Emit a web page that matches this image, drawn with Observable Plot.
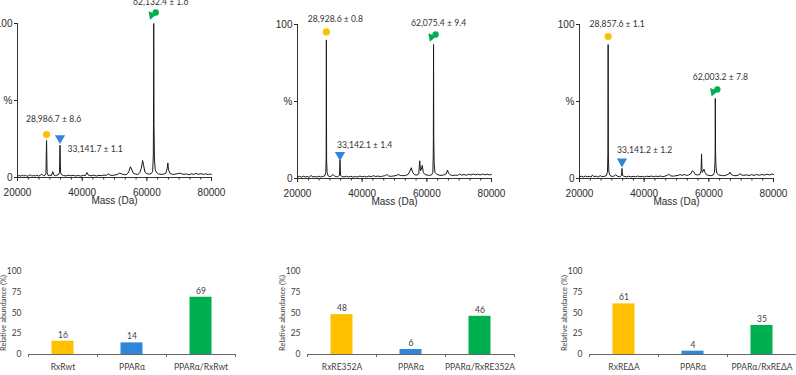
<!DOCTYPE html>
<html>
<head>
<meta charset="utf-8">
<script src="https://cdn.jsdelivr.net/npm/d3@7"></script>
<script src="https://cdn.jsdelivr.net/npm/@observablehq/plot@0.6"></script>
<style>
  body { margin: 0; background: #fff; }
  #fig { position: relative; width: 796px; height: 375px; overflow: hidden; background: #fff; }
  #fig > svg { position: absolute; overflow: visible; }
</style>
</head>
<body>
<div id="fig"></div>
<script>
// ---------- deconvoluted mass spectra: [mass (Da), relative intensity (%)] ----------
const spectrumRxRwt = [
  [20000,0.8],[20500,1.3],[21000,0.9],[21500,1.5],[22000,1.0],[22500,1.4],[23000,0.8],[23500,1.2],
  [24000,1.8],[24400,0.9],[25000,1.3],[25500,1.0],[26000,1.6],[26500,0.9],[27000,1.4],[27500,2.2],
  [28000,1.1],[28500,1.5],[28800,2.5],[28987,24],[29150,3],[29500,1.2],[30000,1.5],[30500,1.2],
  [30900,3.8],[31300,1.5],[31800,1.2],[32300,1.6],[32800,2.0],[33000,4],[33142,21],[33300,3.5],
  [33600,1.8],[34200,1.3],[35000,1.0],[35800,1.5],[36500,1.1],[37200,1.4],[38000,1.0],[38800,1.3],
  [39600,0.9],[40400,1.4],[41000,1.2],[41500,3.2],[42000,1.4],[42800,1.1],[43600,1.5],[44400,1.0],
  [45200,1.4],[46000,1.2],[46800,1.6],[47500,1.3],[48000,2.5],[48500,1.7],[49200,1.3],[50000,1.6],
  [50800,1.9],[51500,2.8],[52200,2.4],[53000,1.8],[53800,2.0],[54400,3.5],[54900,7],[55300,5.5],
  [55800,2.8],[56500,2.2],[57200,2.0],[57800,3],[58300,6],[58700,11],[59000,8],[59400,3.5],
  [60000,2.5],[60800,2.2],[61400,2.6],[61800,4],[62000,14],[62060,35],[62132,100],[62220,34],
  [62350,12],[62600,5],[63000,3.2],[63600,2.4],[64400,2.0],[65200,2.2],[65900,2.8],[66300,6],
  [66500,9.5],[66700,5],[67200,2.6],[68000,2.0],[69000,2.2],[70000,2.8],[70800,2.4],[71500,2.0],
  [72300,2.3],[73000,1.8],[73800,2.4],[74500,2.0],[75200,2.6],[76000,2.1],[76800,2.5],[77500,2.0],
  [78200,2.4],[79000,1.9],[79600,2.3],[80000,2.0]
];
const spectrumRxRE352A = [
  [20000,1.0],[20600,1.4],[21200,0.9],[21800,1.5],[22400,1.0],[23000,1.3],[23600,0.8],[24200,1.9],
  [24800,1.0],[25400,1.3],[26000,0.9],[26600,1.5],[27200,1.0],[27800,1.3],[28400,1.6],[28750,4],
  [28860,13],[28929,90],[29000,12],[29150,4],[29500,1.6],[30000,1.2],[30600,1.8],[31000,2.6],
  [31500,1.5],[32100,1.2],[32700,1.5],[33000,2.2],[33142,12],[33300,2.2],[33700,1.3],[34400,1.0],
  [35100,1.5],[35800,1.0],[36500,1.4],[37200,0.9],[37900,1.3],[38600,1.0],[39300,1.6],[40000,1.1],
  [40700,1.4],[41400,1.0],[42100,1.6],[42800,1.2],[43500,1.8],[44200,1.3],[44900,1.6],[45600,1.2],
  [46300,1.5],[47000,1.8],[47600,2.6],[48200,1.6],[49000,1.4],[49800,1.7],[50500,1.9],[51200,2.6],
  [51800,2.0],[52600,1.8],[53400,2.0],[54200,2.6],[54800,5],[55200,7],[55600,4],[56200,2.4],
  [56900,2.2],[57500,3],[57800,11.5],[58050,5],[58300,6],[58600,8.5],[58900,4],[59400,2.6],
  [60100,2.2],[60800,2.0],[61500,2.4],[61850,4],[61980,14],[62020,26],[62075,87],[62150,26],
  [62260,10],[62500,4],[63000,2.8],[63700,2.2],[64400,2.0],[65200,2.3],[66000,3],[66400,5.5],
  [66700,3.5],[67200,2.4],[68000,1.9],[68800,2.2],[69500,2.0],[70100,2.8],[70800,2.2],[71500,2.6],
  [72200,2.1],[73000,2.8],[73700,2.3],[74400,2.9],[75100,2.4],[75800,2.8],[76500,2.3],[77200,2.9],
  [78000,2.4],[78700,2.8],[79400,2.3],[80000,2.7]
];
const spectrumRxREdA = [
  [20000,1.1],[20600,1.5],[21200,1.0],[21800,1.6],[22400,1.1],[23000,1.4],[23600,1.0],[24000,2.2],
  [24500,1.2],[25200,1.5],[25800,1.0],[26400,1.8],[27000,1.2],[27600,1.4],[28200,1.7],[28650,4],
  [28790,16],[28858,87],[28930,14],[29100,4],[29500,1.8],[30100,1.3],[30700,1.6],[31200,2.4],
  [31700,1.5],[32300,1.2],[32800,1.5],[33000,2],[33141,6.5],[33300,2],[33800,1.4],[34500,1.1],
  [35200,1.5],[35900,1.0],[36600,1.4],[37300,1.1],[38000,1.6],[38700,1.1],[39400,1.4],[40100,1.0],
  [40800,1.5],[41500,1.2],[42200,1.6],[42900,1.2],[43600,1.5],[44300,1.3],[45000,1.6],[45700,1.2],
  [46400,1.5],[47100,2],[47600,2.8],[48200,1.7],[49000,1.5],[49800,1.8],[50500,2.0],[51100,2.6],
  [51700,2.0],[52400,2.6],[53100,2.0],[53800,2.3],[54400,3],[54900,5],[55300,4.5],[55800,2.6],
  [56500,2.3],[57200,2.6],[57600,5],[57750,16],[57900,4],[58200,4.5],[58500,6],[58800,4],
  [59300,2.4],[60000,2.0],[60700,1.8],[61300,2.2],[61750,4],[61920,11],[61960,19],[62003,52],
  [62080,18],[62200,8],[62450,3.5],[63000,2.4],[63800,2.0],[64600,1.8],[65400,2.2],[66100,2.8],
  [66500,4.2],[66900,2.6],[67600,2.0],[68400,1.8],[69200,2.2],[69600,3.2],[70000,2.4],[70800,2.0],
  [71600,2.4],[72400,1.9],[73200,2.5],[74000,2.0],[74800,2.6],[75600,2.1],[76400,2.6],[77200,2.2],
  [78000,2.8],[78800,2.3],[79500,2.9],[80000,2.6]
];

// ---------- annotated peaks: RxR monomer, PPARα monomer, PPARα/RxR heterodimer ----------
const peakMassRxRwt = [28986.7, 33141.7, 62132.4];
const peakPctRxRwt = [24, 21, 100];
const peakLabelRxRwt = ["28,986.7 ± 8.6", "33,141.7 ± 1.1", "62,132.4 ± 1.6"];

const peakMassRxRE352A = [28928.6, 33142.1, 62075.4];
const peakPctRxRE352A = [90, 12, 87];
const peakLabelRxRE352A = ["28,928.6 ± 0.8", "33,142.1 ± 1.4", "62,075.4 ± 9.4"];

const peakMassRxREdA = [28857.6, 33141.2, 62003.2];
const peakPctRxREdA = [87, 6.5, 52];
const peakLabelRxREdA = ["28,857.6 ± 1.1", "33,141.2 ± 1.2", "62,003.2 ± 7.8"];

// ---------- axis ticks ----------
const massTicks = [20000, 40000, 60000, 80000];
const intensityTicks = [0, 50, 100];
const intensityTickLabels = ["0", "%", "100"];
const abundanceTicks = [0, 25, 50, 75, 100];

// ---------- relative abundance bars ----------
const barCatsRxRwt = ["RxRwt", "PPARα", "PPARα/RxRwt"];
const barValsRxRwt = [16, 14, 69];
const barCatsRxRE352A = ["RxRE352A", "PPARα", "PPARα/RxRE352A"];
const barValsRxRE352A = [48, 6, 46];
const barCatsRxREdA = ["RxREΔA", "PPARα", "PPARα/RxREΔA"];
const barValsRxREdA = [61, 4, 35];

// ---------- styling ----------
const YELLOW = "#FFC000", BLUE = "#2F86DA", GREEN = "#00B050";
const speciesColors = [YELLOW, BLUE, GREEN];
const fig = document.getElementById("fig");

function place(svg, left, top) {
  svg.style.left = left + "px";
  svg.style.top = top + "px";
  fig.appendChild(svg);
}

// minor mass ticks: six subdivisions between labelled ticks
const minorMassTicks = d3.range(0, 19).map(k => 20000 + k * 10000 / 3);

function spectrumPanel(spectrum, masses, pcts, labels, layout) {
  const peaks = masses.map((m, i) => ({mass: m, pct: pcts[i], label: labels[i]}));
  const marks = [
    Plot.ruleX([massTicks[0]], {stroke: "#333", strokeWidth: 1}),
    Plot.ruleY([0], {stroke: "#333", strokeWidth: 1}),
    Plot.axisY({ticks: intensityTicks, tickFormat: d => intensityTickLabels[intensityTicks.indexOf(d)],
      tickSize: 3, tickPadding: 2, label: null, fontSize: 10}),
    Plot.axisX({ticks: massTicks, tickFormat: d => String(d), tickSize: 4, tickPadding: 7, label: null, fontSize: 10}),
    Plot.axisX({ticks: minorMassTicks, tickFormat: () => "", tickSize: 2.5, label: null}),
    Plot.text(["Mass (Da)"], {frameAnchor: "bottom", textAnchor: "middle", dy: 26, fontSize: 10, fill: "#2b2b2b"}),
    Plot.line(spectrum, {x: d => d[0], y: d => d[1], stroke: "#1a1a1a", strokeWidth: 1}),
    // RxR monomer: yellow circle
    Plot.dot([peaks[0]], {x: "mass", y: "pct", dy: layout.lift[0], r: 3.6, fill: YELLOW, symbol: "circle"}),
    // PPARα monomer: blue downward triangle
    Plot.dot([peaks[1]], {x: "mass", y: "pct", dy: layout.lift[1], r: 3.8, fill: BLUE, symbol: "triangle", rotate: 180}),
    // heterodimer: fused green triangle + circle
    Plot.dot([peaks[2]], {x: "mass", y: "pct", dx: -2, dy: layout.lift[2] + 1.5, r: 3.2, fill: GREEN, symbol: "triangle", rotate: 200}),
    Plot.dot([peaks[2]], {x: "mass", y: "pct", dx: 2, dy: layout.lift[2] - 1, r: 3.2, fill: GREEN, symbol: "circle"})
  ];
  peaks.forEach((p, i) => {
    const l = layout.labels[i];
    marks.push(Plot.text([p], {x: "mass", y: "pct", text: "label", dx: l.dx, dy: l.dy,
      textAnchor: l.anchor, fontSize: 8.6, fontFamily: "Lato, sans-serif", fill: "#333"}));
  });
  return Plot.plot({
    width: 260, height: 216,
    marginLeft: 47, marginRight: 19, marginTop: 30, marginBottom: 32,
    x: {domain: [20000, 80000]},
    y: {domain: [0, 100]},
    style: {fontFamily: "'Liberation Sans', Arial, sans-serif", fontSize: "10px", color: "#2b2b2b", background: "transparent"},
    marks
  });
}

function abundancePanel(cats, vals) {
  const data = cats.map((c, i) => ({cat: c, val: vals[i]}));
  const innerWidth = 207;
  const step = innerWidth / cats.length;
  return Plot.plot({
    width: 40 + innerWidth, height: 125,
    marginLeft: 40, marginRight: 0, marginTop: 20, marginBottom: 22,
    x: {domain: cats, padding: 0},
    y: {domain: [0, 100]},
    color: {domain: cats, range: speciesColors},
    style: {fontFamily: "Lato, sans-serif", fontSize: "8.5px", color: "#404040", background: "transparent"},
    marks: [
      Plot.barY(data, {x: "cat", y: "val", fill: "cat", insetLeft: 23.5, insetRight: 23.5}),
      Plot.ruleY([0], {stroke: "#666", strokeWidth: 1}),
      Plot.axisY({ticks: abundanceTicks, tickSize: 0, tickPadding: 7, label: null}),
      Plot.axisX({tickSize: 0, tickPadding: 9, label: null}),
      Plot.axisX({ticks: cats, tickFormat: () => "", tickSize: 3, dx: -step / 2, label: null, stroke: "#666"}),
      Plot.axisX({ticks: [cats[cats.length - 1]], tickFormat: () => "", tickSize: 3, dx: step / 2, label: null, stroke: "#666"}),
      Plot.text(data, {x: "cat", y: "val", text: d => String(d.val), dy: -3.5, lineAnchor: "bottom", fontSize: 8.5, fill: "#404040"}),
      Plot.text(["Relative abundance (%)"], {frameAnchor: "left", textAnchor: "middle", rotate: -90, dx: -25, fontSize: 7.5, fill: "#404040"})
    ]
  });
}

// top row: spectra
place(spectrumPanel(spectrumRxRwt, peakMassRxRwt, peakPctRxRwt, peakLabelRxRwt, {
  lift: [-6, -7, -10],
  labels: [{dx: 7, dy: -21, anchor: "middle"}, {dx: 7.5, dy: 4, anchor: "start"}, {dx: 7, dy: -21, anchor: "middle"}]
}), -30, -7);
place(spectrumPanel(spectrumRxRE352A, peakMassRxRE352A, peakPctRxRE352A, peakLabelRxRE352A, {
  lift: [-8, -5, -9],
  labels: [{dx: 9, dy: -21, anchor: "middle"}, {dx: -3, dy: -15, anchor: "start"}, {dx: 5, dy: -21, anchor: "middle"}]
}), 250, -6);
place(spectrumPanel(spectrumRxREdA, peakMassRxREdA, peakPctRxREdA, peakLabelRxREdA, {
  lift: [-8, -7, -8],
  labels: [{dx: 9, dy: -20, anchor: "middle"}, {dx: -5, dy: -18, anchor: "start"}, {dx: 5, dy: -21, anchor: "middle"}]
}), 532, -6);

// bottom row: relative abundances
place(abundancePanel(barCatsRxRwt, barValsRxRwt), -12, 251);
place(abundancePanel(barCatsRxRE352A, barValsRxRE352A), 267, 251);
place(abundancePanel(barCatsRxREdA, barValsRxREdA), 549, 251);
</script>
</body>
</html>
